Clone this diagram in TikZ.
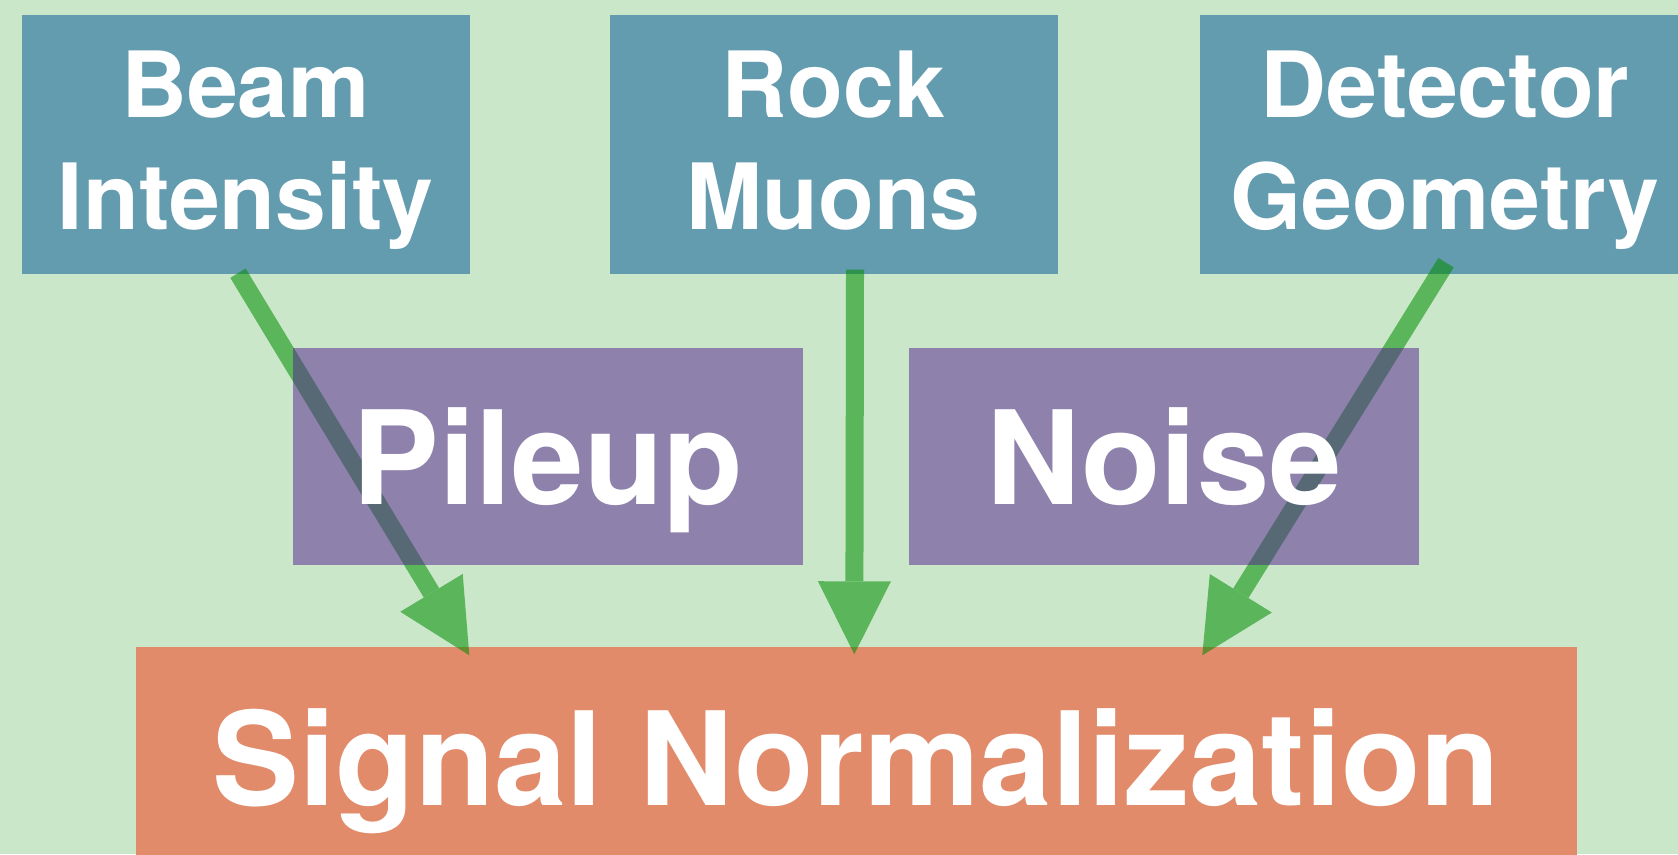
\documentclass[tikz,border=0pt]{standalone}
\usepackage{fontspec}
\setmainfont{TeX Gyre Heros}
\usetikzlibrary{arrows.meta}

\definecolor{bggreen}{HTML}{CAE7CA}
\definecolor{srcblue}{HTML}{639BAF}
\definecolor{effpurple}{HTML}{541F90}
\definecolor{normorange}{HTML}{E28B6B}
\definecolor{flowgreen}{HTML}{008C00}

\begin{document}
\begin{tikzpicture}[
  source/.style={fill=srcblue, text=white, align=center,
    font=\fontsize{26}{32}\selectfont\bfseries, text depth=2.6pt,
    minimum width=4.48cm, minimum height=2.59cm, inner xsep=0.31cm},
  effect/.style={fill=effpurple, fill opacity=0.5, text opacity=1, text=white,
    font=\fontsize{37}{44}\selectfont\bfseries,
    text height=27.4pt, text depth=0pt,
    minimum width=5.10cm, minimum height=2.17cm},
  target/.style={fill=normorange, text=white,
    font=\fontsize{37}{44}\selectfont\bfseries,
    text height=27.4pt, text depth=0pt,
    minimum width=14.41cm, minimum height=2.20cm},
  flow/.style={draw=flowgreen, line width=0.18cm,
    -{Triangle[length=0.73cm, width=0.73cm, line width=0pt]}}
]

% Draw Background

\useasboundingbox (0,0) rectangle (16.78,8.54);
\clip (0,0) rectangle (16.78,8.54);
\fill[bggreen] (0,0) rectangle (16.78,8.54);

% Draw Sources

\node[source] (beam) at (2.455,7.095) {Beam\\Intensity};

\node[source] (rock) at (8.335,7.095) {Rock\\Muons};

\node[source] (detector) at (14.45,7.095) {Detector\\Geometry};

% Draw Signal Normalization

\node[target] (signal) at (8.565,0.97) {Signal Normalization};

% Draw Arrows

\begin{scope}[transparency group, opacity=0.55]
\draw[flow] ([xshift=-0.075cm, yshift=0.015cm]beam.south)
  -- ([xshift=3.34cm, yshift=-0.09cm]signal.north west);

\draw[flow] ([xshift=0.215cm, yshift=0.05cm]rock.south)
  -- ([xshift=7.19cm, yshift=-0.08cm]signal.north west);

\draw[flow] ([xshift=0.01cm, yshift=0.12cm]detector.south)
  -- ([xshift=10.67cm, yshift=-0.09cm]signal.north west);
\end{scope}

% Draw Pileup and Noise

\node[effect] (pileup) at (5.48,3.975) {Pileup};

\node[effect] (noise) at (11.64,3.975) {Noise};

\end{tikzpicture}
\end{document}
